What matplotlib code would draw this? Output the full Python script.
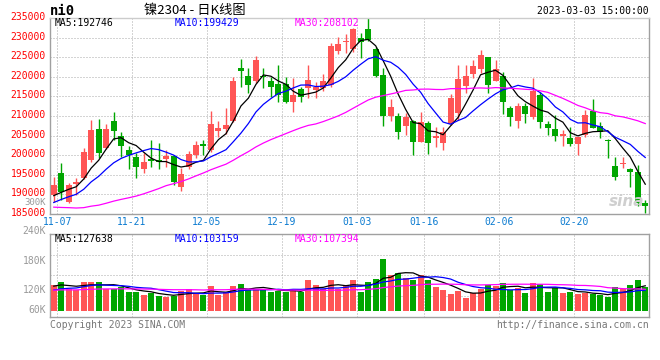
import numpy as np
import pandas as pd
import matplotlib
matplotlib.use("Agg")
import matplotlib.pyplot as plt
from matplotlib.transforms import ScaledTranslation

# ni2304 daily candles, 2022-11-04 .. 2023-03-03 (80 trading days)
opens = [189850, 195350, 187950, 192550, 194100, 198850, 206650, 201900, 208700, 204900,
         201300, 199550, 196550, 199100, 198750, 199000, 199800, 191950, 197050, 199950,
         202750, 201400, 206150, 206600, 208700, 222150, 220200, 218900, 220200, 218900,
         218050, 218050, 213650, 216850, 217200, 216600, 217050, 217900, 226550, 228750,
         227050, 229950, 232150, 227050, 220450, 210050, 210050, 207500, 208700, 203450,
         208300, 204450, 203200, 207850, 210850, 217700, 220700, 221900, 224950, 219000,
         220200, 211950, 208800, 212550, 209800, 215350, 207950, 206650, 204950, 204300,
         202850, 205150, 211250, 207450, 203800, 197250, 197750, 196450, 195800, 187900]
highs = [194500, 197900, 192800, 194250, 201900, 208950, 209200, 207950, 211100, 206000,
         202400, 200650, 200450, 203850, 203000, 201300, 200050, 196650, 201050, 203600,
         203850, 211250, 208700, 211950, 220000, 224450, 222150, 225350, 222150, 219950,
         223000, 220000, 219600, 217450, 223000, 218750, 220600, 228500, 230050, 230900,
         232350, 231050, 234900, 227500, 222150, 214300, 210650, 210650, 208950, 211100,
         208700, 207100, 207100, 215600, 223000, 223000, 224250, 226800, 225000, 224250,
         221300, 212600, 213400, 213200, 219750, 216200, 208700, 210250, 206400, 207250,
         204750, 211500, 214300, 208350, 204100, 199550, 199600, 196650, 197500, 188550]
lows = [188150, 188550, 187700, 189850, 193900, 198150, 199200, 201550, 203850, 199600,
        196450, 194100, 195350, 197050, 196450, 197050, 192400, 190950, 196450, 199200,
        200050, 200700, 204700, 205300, 208350, 217450, 215750, 218300, 217050, 214900,
        213650, 213200, 211100, 213650, 214500, 214500, 216350, 217450, 225800, 226150,
        226200, 224850, 229100, 220000, 207500, 208700, 204100, 205150, 200050, 203250,
        200400, 202150, 201300, 207700, 208950, 215950, 219600, 221050, 215950, 218900,
        210400, 207500, 207000, 208300, 209200, 207000, 205150, 203600, 202400, 202400,
        200050, 204700, 206850, 204300, 199200, 193600, 196650, 191950, 187100, 185150]
closes = [192400, 190700, 192400, 193250, 200800, 206400, 200650, 206650, 206250, 202350,
          200050, 197050, 198250, 198500, 198150, 199900, 193250, 195100, 200200, 202600,
          202400, 207850, 206850, 207700, 218900, 221450, 217900, 224250, 219850, 217300,
          215350, 213650, 215350, 214900, 219150, 217450, 218900, 227900, 228350, 229100,
          232150, 228750, 229350, 220200, 210050, 212350, 206000, 209800, 203450, 208550,
          203200, 204950, 206000, 214650, 219400, 220200, 222750, 225550, 217900, 221950,
          213650, 209650, 212550, 210400, 216350, 208550, 207000, 204950, 205300, 202850,
          204550, 210250, 207000, 205800, 203600, 194500, 198100, 195600, 187700, 187100]
# volume in thousands
volume = [132, 149, 110, 106, 149, 149, 149, 110, 110, 120,
          98, 98, 80, 89, 77, 72, 77, 101, 110, 89,
          80, 127, 80, 98, 127, 137, 111, 110, 111, 98,
          101, 98, 106, 94, 157, 132, 110, 157, 110, 132,
          157, 98, 149, 163, 265, 183, 195, 169, 157, 183,
          157, 123, 106, 86, 101, 67, 89, 110, 132, 127,
          144, 106, 118, 92, 144, 137, 98, 115, 92, 98,
          86, 89, 84, 80, 72, 120, 110, 132, 157, 120]

# estimated days before the window, only used to start the moving averages
prior_close = [193000, 194000, 196000, 198000, 195000, 193000, 192000, 190000, 189000, 188000,
               184000, 181000, 179000, 178000, 177000, 178000, 179000, 180000, 179000, 180000,
               183000, 185500, 187000, 188000, 187500, 186500, 188500, 190000, 191000]
prior_volume = [98, 110, 105, 102, 112, 100, 96, 108, 104, 110,
                101, 99, 107, 103, 109, 100, 104, 106, 102, 114,
                88, 82, 90, 84, 86, 118, 126, 124, 130]

date_labels = ['11-07', '11-21', '12-05', '12-19', '01-03', '01-16', '02-06', '02-20']
date_index = [1, 11, 21, 31, 41, 50, 60, 70]
price_ticks = list(range(185000, 235001, 5000))
vol_labels = ['240K', '180K', '120K', '60K']
vol_label_px = [231, 261, 290, 310]

RED = '#ff5555'
GREEN = '#00a600'
GRID = '#aaaaaa'
FRAME = '#a0a0a0'
W, H = 660, 360

plt.rcParams['font.family'] = ['DejaVu Sans Mono', 'Noto Sans CJK SC']


def box(l, t, r, b):
    return [l / W, 1 - b / H, (r - l) / W, (b - t) / H]


def ftext(x, y, s, **kw):
    fig.text(x / W, 1 - y / H, s, va='center', **kw)


o = np.array(opens); h = np.array(highs); l = np.array(lows); c = np.array(closes)
v = np.array(volume, dtype=float)
n = len(c)
x = np.arange(n)
up = c >= o
col = np.where(up, RED, GREEN)

cs = pd.Series(prior_close + closes)
vs = pd.Series(prior_volume + volume)
ma = {k: cs.rolling(k).mean().values[-n:] for k in (5, 10, 30)}
vma = {k: vs.rolling(k).mean().values[-n:] for k in (5, 10, 30)}
ma_col = {5: 'black', 10: '#0000ff', 30: '#ff00ff'}

fig = plt.figure(figsize=(6.6, 3.6), dpi=100)
ax = fig.add_axes(box(50, 18, 649, 214))
axv = fig.add_axes(box(50, 234, 649, 317))

# price panel
ax.vlines(x, l, h, colors=col, lw=1.0, zorder=2)
ax.bar(x, np.maximum(np.abs(c - o), 250), bottom=np.minimum(o, c), width=0.8,
       color=col, zorder=3)
for k in (5, 10, 30):
    ax.plot(x, ma[k], color=ma_col[k], lw=0.9, zorder=4)

ax.set_xlim(-0.5, n - 0.5)
ax.set_ylim(185000, 235000)
ax.set_yticks(price_ticks)
ax.set_yticklabels([str(t) for t in price_ticks])
ax.set_xticks([i - 0.55 for i in date_index])
ax.set_xticklabels(date_labels)
ax.grid(True, ls=(0, (1, 2)), color=GRID, lw=0.72)
ax.tick_params(axis='y', length=0, pad=3, labelcolor='#ff0000', labelsize=7)
ax.tick_params(axis='x', length=0, pad=2.5, labelcolor='#0a7ad0', labelsize=7)
for lab in ax.get_yticklabels():
    lab.set_transform(lab.get_transform() + ScaledTranslation(0, 0.02, fig.dpi_scale_trans))
for s in ax.spines.values():
    s.set_color(FRAME)
    s.set_linewidth(1.0)
ax.spines['top'].set_color('#cccccc')

# volume panel
axv.bar(x, v, width=0.8, color=col, zorder=3)
for k in (5, 10, 30):
    axv.plot(x, vma[k], color=ma_col[k], lw=0.9, zorder=4)
axv.set_xlim(-0.5, n - 0.5)
lo, hi = -32.5, 393.6
axv.set_ylim(lo, hi)
axv.set_xticks([i - 0.55 for i in date_index])
axv.set_xticklabels([])
axv.set_yticks([])
axv.grid(True, axis='x', ls=(0, (1, 2)), color=GRID, lw=0.72)
for f in (0.25, 0.5, 0.75):
    axv.axhline(lo + f * (hi - lo), ls=(0, (1, 2)), color=GRID, lw=0.72, zorder=1)
axv.tick_params(length=0)
for s in axv.spines.values():
    s.set_color(FRAME)
    s.set_linewidth(1.0)
for lab, py in zip(vol_labels, vol_label_px):
    ftext(46, py, lab, ha='right', color='#999999', fontsize=7)

# header / legend texts
ftext(50, 11, 'ni0', ha='left', fontsize=10, fontweight='bold', color='black')
ftext(195, 10.5, '镍2304 - 日K线图', ha='center', fontsize=9.5, color='black',
      family=['Noto Sans CJK SC', 'DejaVu Sans'])
ftext(649, 11.5, '2023-03-03 15:00:00', ha='right', fontsize=7, color='black')
ftext(55, 23.5, 'MA5:192746', ha='left', fontsize=7, color='black')
ftext(175, 23.5, 'MA10:199429', ha='left', fontsize=7, color='#0000ff')
ftext(295, 23.5, 'MA30:208102', ha='left', fontsize=7, color='#ff00ff')
ftext(55, 238.5, 'MA5:127638', ha='left', fontsize=7, color='black')
ftext(175, 238.5, 'MA10:103159', ha='left', fontsize=7, color='#0000ff')
ftext(295, 238.5, 'MA30:107394', ha='left', fontsize=7, color='#ff00ff')
ftext(46, 202.5, '300K', ha='right', fontsize=6.5, color='#999999')
ftext(50, 324.5, 'Copyright 2023 SINA.COM', ha='left', fontsize=7, color='#777777')
ftext(649, 324.5, 'http://finance.sina.com.cn', ha='right', fontsize=7, color='#777777')
ftext(627, 202, 'sina', ha='center', fontsize=11, fontweight='bold', style='italic',
      color='#cfcfcf', family='DejaVu Sans')

fig.savefig('out.png', dpi=100, facecolor='white')
